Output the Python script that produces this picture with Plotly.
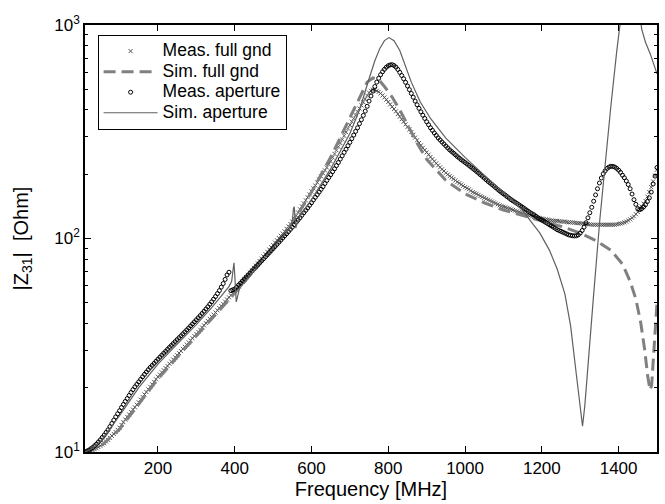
import plotly.graph_objects as go

# measured sweep grid, 5 MHz steps (10 ... 1500 MHz)
freq_meas = list(range(10, 1501, 5))

# |Z31| measured, full ground plane
z_meas_full = [
    10.0, 10.05, 10.1, 10.15, 10.2, 10.3, 10.4, 10.55, 10.7, 10.85,
    11.0, 11.2, 11.4, 11.65, 11.9, 12.15, 12.4, 12.7, 13.0, 13.4,
    13.8, 14.2, 14.6, 15.0, 15.4, 15.8, 16.2, 16.65, 17.1, 17.6,
    18.1, 18.6, 19.1, 19.65, 20.2, 20.75, 21.3, 21.9, 22.5, 23.05,
    23.6, 24.15, 24.7, 25.3, 25.9, 26.5, 27.1, 27.75, 28.4, 29.05,
    29.7, 30.4, 31.1, 31.85, 32.6, 33.35, 34.1, 34.9, 35.7, 36.55,
    37.4, 38.3, 39.2, 40.15, 41.1, 42.05, 43.0, 44.0, 45.0, 46.1,
    47.2, 48.3, 49.4, 50.6, 51.8, 53.0, 54.2, 55.5, 56.8, 58.2,
    59.7, 61.2, 62.7, 64.3, 65.9, 67.6, 69.3, 71.0, 72.8, 74.6,
    76.5, 78.4, 80.4, 82.4, 84.5, 86.6, 88.8, 91.0, 93.3, 95.7,
    98.1, 100.5, 103, 105.5, 108, 111, 114, 117, 120, 124,
    128, 132.5, 137, 141.5, 146, 151, 156, 161, 166, 171.5,
    177, 183, 189, 195.5, 202, 208.5, 215, 222.5, 230, 239.5,
    249, 259, 269, 280, 291, 303, 315, 327.5, 340, 352.5,
    365, 378.5, 392, 406, 420, 435, 450, 467, 482, 492,
    498, 497, 492, 486, 478, 468, 458, 447, 436, 425,
    414, 404, 394, 383, 372, 362, 352, 342.5, 333, 324,
    315, 306, 297, 288.5, 280, 273, 266, 259.5, 253, 247,
    241, 235.5, 230, 225, 220, 215.5, 211, 207, 203, 199.5,
    196, 193, 190, 187, 184, 181.5, 179, 176.5, 174, 172,
    170, 167.5, 165, 163.5, 162, 160, 158, 156.5, 155, 153.5,
    152, 150.5, 149, 147.5, 146, 144.5, 143, 142, 141, 140,
    139, 138, 137, 136, 135, 134, 133, 132, 131, 130,
    129, 128.5, 128, 127, 126, 125.5, 125, 124.5, 124, 123.5,
    123, 122.5, 122, 121.5, 121, 121, 121, 120.5, 120, 120,
    120, 119.5, 119, 119, 119, 118.5, 118, 118, 118, 117.5,
    117, 117, 117, 116.5, 116, 116, 116, 116, 116, 116,
    116, 116, 116, 116, 116, 116, 116, 116.5, 117, 117.5,
    118, 119, 120, 121.5, 123, 125, 127, 130, 133, 137,
    141, 145.5, 150, 157, 165, 174, 185, 197, 210,
]

# |Z31| measured, ground plane with aperture
z_meas_aper = [
    10.0, 10.1, 10.2, 10.35, 10.5, 10.7, 10.9, 11.15, 11.4, 11.7,
    12.0, 12.35, 12.7, 13.15, 13.6, 14.1, 14.6, 15.1, 15.6, 16.15,
    16.7, 17.25, 17.8, 18.4, 19.0, 19.6, 20.2, 20.75, 21.3, 21.9,
    22.5, 23.1, 23.7, 24.3, 24.9, 25.45, 26.0, 26.6, 27.2, 27.8,
    28.4, 29.0, 29.6, 30.25, 30.9, 31.55, 32.2, 32.9, 33.6, 34.3,
    35.0, 35.75, 36.5, 37.3, 38.1, 38.95, 39.8, 40.7, 41.6, 42.55,
    43.5, 44.55, 45.6, 46.75, 47.9, 49.2, 50.5, 52.0, 53.5, 55.2,
    57.0, 59.2, 61.5, 64.3, 67.5, 69.5, 57.0, 57.5, 58.0, 59.2,
    60.5, 61.8, 63.2, 64.6, 66.0, 67.4, 68.9, 70.4, 72.0, 73.6,
    75.2, 76.9, 78.6, 80.3, 82.1, 83.9, 85.8, 87.7, 89.7, 91.7,
    93.8, 96.0, 98.2, 100.5, 102.8, 105.2, 107.7, 110.3, 113, 116,
    119, 122, 125, 128.5, 132, 135.5, 139, 143, 147, 151.5,
    156, 160.5, 165, 170, 175, 181, 187, 193, 199, 205.5,
    212, 219.5, 227, 235.5, 244, 253, 262, 272, 282, 293.5,
    305, 317.5, 330, 345, 360, 377, 395, 416, 440, 465,
    490, 515, 540, 563, 585, 604, 620, 634, 645, 650,
    652, 646, 635, 619, 600, 580, 560, 539, 518, 498,
    478, 459, 440, 423, 407, 392, 378, 365, 352, 341,
    330, 321, 312, 304, 296, 289.5, 283, 277, 271, 265.5,
    260, 255.5, 251, 246.5, 242, 238, 234, 230.5, 227, 223.5,
    220, 216.5, 213, 209.5, 206, 202.5, 199, 195.5, 192, 188.5,
    185, 182, 179, 176, 173, 170, 167, 164.5, 162, 159.5,
    157, 154.5, 152, 150, 148, 146, 144, 142, 140, 138,
    136, 134, 132, 130.5, 129, 127, 125, 123.5, 122, 120.5,
    119, 117.5, 116, 114.5, 113, 111.5, 110, 109, 108, 107,
    106, 105, 104, 103.5, 103, 102.8, 103, 104, 106, 109,
    113, 118.5, 125, 132, 140, 149.5, 160, 171, 182, 192,
    201, 207.5, 213, 216, 218, 217.5, 216, 213, 209, 204,
    198, 192.5, 186, 179, 171, 161.5, 152, 144.5, 138, 136.5,
    138, 140.5, 144, 149, 155, 165, 180, 196, 215,
]

# simulated, full ground plane
freq_sim_full = [10, 50, 100, 150, 200, 250, 300, 350, 400, 450, 500, 550, 600, 650,
                 700, 725, 745, 760, 775, 790, 810, 830, 850, 875, 900, 950, 1000,
                 1050, 1100, 1150, 1200, 1250, 1300, 1340, 1380, 1410, 1430, 1445,
                 1458, 1468, 1476, 1482, 1486, 1490, 1495, 1500]
z_sim_full = [10, 10.6, 12.8, 16.8, 22.0, 27.8, 34.8, 44, 55.5, 70.5, 90, 118, 165, 240,
              370, 460, 540, 565, 555, 515, 460, 400, 340, 280, 235, 187, 162,
              147, 136, 128, 121, 114, 106, 98, 88, 76, 63, 52,
              40, 30, 22.5, 19.5, 20.5, 26, 36, 50]

# simulated, aperture
freq_sim_aper = [10, 30, 50, 75, 100, 150, 200, 250, 300, 340, 370, 385, 392, 396, 398,
                 400, 402, 404, 407, 412, 430, 470, 510, 540, 548, 551, 553, 555, 557,
                 559, 562, 570, 600, 650, 700, 725, 750, 765, 778, 790, 802, 815, 830,
                 845, 860, 883, 910, 950, 1000, 1050, 1100, 1150, 1195, 1220, 1240,
                 1260, 1275, 1290, 1300, 1306, 1312, 1320, 1334, 1351, 1364, 1380,
                 1395, 1405, 1420, 1435, 1450, 1460, 1470, 1482, 1500]
z_sim_aper = [10, 10.4, 11.2, 12.8, 14.8, 20.0, 25.8, 32.0, 39.5, 47.5, 55, 59.5, 63, 70, 77,
              68, 53, 50.5, 53, 58, 64, 78, 96, 110, 116, 125, 138, 141, 125,
              112, 118, 127, 152, 212, 310, 400, 560, 680, 777, 845, 873, 845, 760,
              640, 540, 437, 365, 295, 240, 198, 165, 135, 106, 88, 72,
              55, 39, 23, 16, 13.2, 16.5, 26, 52, 122, 217, 420,
              750, 1050, 2200, 3000, 1400, 960, 830, 736, 590]

font = "Liberation Sans, Arial, sans-serif"


def leg(txt):
    # legend text drawn larger than the legend font, keeps rows tight
    return '<span style="font-size:17.5px">' + txt + '</span>'


fig = go.Figure()
fig.add_trace(go.Scatter(x=freq_meas, y=z_meas_full, mode='markers', name=leg('Meas. full gnd'),
                         marker=dict(symbol='x-thin', size=4, line=dict(width=1, color='#555555'),
                                     color='#555555')))
fig.add_trace(go.Scatter(x=freq_sim_full, y=z_sim_full, mode='lines', name=leg('Sim. full gnd'),
                         line=dict(color='#808080', width=3, dash='12px,6px')))
fig.add_trace(go.Scatter(x=freq_meas, y=z_meas_aper, mode='markers', name=leg('Meas. aperture'),
                         marker=dict(symbol='circle-open', size=4, line=dict(width=1, color='black'),
                                     color='black')))
fig.add_trace(go.Scatter(x=freq_sim_aper, y=z_sim_aper, mode='lines', name=leg('Sim. aperture'),
                         line=dict(color='#606060', width=1.2)))

fig.update_layout(
    width=665,
    height=504,
    margin=dict(l=85, r=8, t=25, b=52),
    paper_bgcolor='white',
    plot_bgcolor='white',
    font=dict(family=font, size=17, color='black'),
    showlegend=True,
    legend=dict(x=0.022, y=0.977, xanchor='left', yanchor='top',
                bgcolor='white', bordercolor='black', borderwidth=1,
                font=dict(size=13.5), itemwidth=54, tracegroupgap=0),
)
fig.update_xaxes(
    range=[10, 1500],
    tickvals=[200, 400, 600, 800, 1000, 1200, 1400],
    ticks='inside', ticklen=6, tickcolor='black',
    showline=True, linecolor='black', linewidth=1.5, mirror='ticks',
    showgrid=False, zeroline=False, automargin=False,
    tickfont=dict(size=17),
    title=dict(text='Frequency [MHz]', font=dict(size=20), standoff=5),
)
fig.update_yaxes(
    type='log', range=[1, 3],
    tickvals=[10, 100, 1000],
    ticktext=['10<sup>1</sup>', '10<sup>2</sup>', '10<sup>3</sup>'],
    ticks='inside', ticklen=6, tickcolor='black',
    minor=dict(ticks='inside', ticklen=3, tickcolor='black',
               tickvals=[20, 30, 40, 50, 60, 70, 80, 90, 200, 300, 400, 500, 600, 700, 800, 900]),
    showline=True, linecolor='black', linewidth=1.5, mirror='ticks',
    showgrid=False, zeroline=False, automargin=False,
    tickfont=dict(size=17),
    title=dict(text='|Z<sub>31</sub>|  [Ohm]', font=dict(size=20), standoff=20),
)

# no page margin, so the figure sits at the window origin
fig.write_html("out.html", config={'displayModeBar': False},
               post_script="document.body.style.margin='0';")
